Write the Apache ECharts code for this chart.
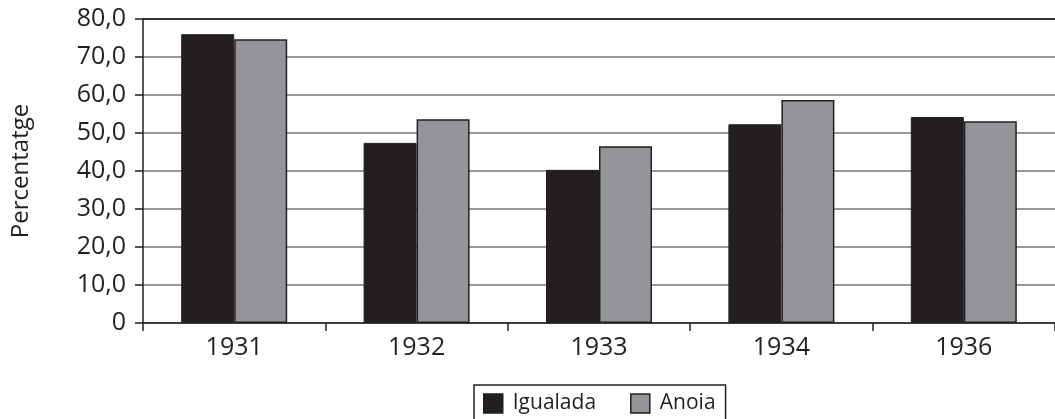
<!DOCTYPE html>
<html>
<head>
<meta charset="utf-8">
<script src="https://cdn.jsdelivr.net/npm/echarts@6/dist/echarts.min.js"></script>
<style>
  html, body { margin: 0; padding: 0; background: #fff; }
  #chart { width: 1055px; height: 419px; }
</style>
</head>
<body>
<div id="chart"></div>
<script>
var years = ['1931', '1932', '1933', '1934', '1936'];
var igualada = [76.0, 47.4, 40.3, 52.3, 54.2];
var anoia = [74.7, 53.6, 46.5, 58.7, 53.1];

initChart();
function initChart(){
    var dom = document.getElementById('chart');
    var myChart = echarts.init(dom, null, { renderer: 'canvas' });
    var font = 'Open Sans';

    var option = {
        animation: false,
        textStyle: { fontFamily: font },
        grid: { left: 143, top: 19, width: 918, height: 304 },
        legend: {
            data: ['Igualada', 'Anoia'],
            left: 474, top: 385,
            padding: [8, 10, 10, 9],
            itemWidth: 19, itemHeight: 19, itemGap: 34,
            borderColor: '#231f20', borderWidth: 1.5,
            icon: 'rect',
            itemStyle: { borderColor: '#231f20', borderWidth: 1.5 },
            textStyle: { fontSize: 21, color: '#231f20', fontFamily: font, padding: [0, 0, 0, 5] }
        },
        xAxis: {
            type: 'category',
            data: years,
            axisLine: { lineStyle: { color: '#231f20', width: 1.5 } },
            axisTick: { show: true, length: 8, lineStyle: { color: '#231f20', width: 1.5 } },
            axisLabel: { fontSize: 25, color: '#231f20', margin: 12 }
        },
        yAxis: {
            type: 'value',
            min: 0, max: 80, interval: 10,
            name: 'Percentatge',
            nameLocation: 'middle',
            nameGap: 110,
            nameTextStyle: { fontSize: 24, color: '#231f20' },
            axisLine: { show: true, lineStyle: { color: '#231f20', width: 1.5 } },
            axisTick: { show: true, length: 8, lineStyle: { color: '#231f20', width: 1.5 } },
            axisLabel: {
                fontSize: 25, color: '#231f20', margin: 17,
                formatter: function (v) { return v === 0 ? '0' : v.toFixed(1).replace('.', ','); }
            },
            splitLine: {
                lineStyle: {
                    color: ['#999', '#999', '#999', '#999', '#999', '#999', '#999', '#999', '#333'],
                    width: 2
                }
            }
        },
        series: [
            {
                name: 'Igualada',
                type: 'bar',
                data: igualada,
                barWidth: 53,
                barGap: '0%',
                itemStyle: { color: '#231f20', borderColor: '#231f20', borderWidth: 1 }
            },
            {
                name: 'Anoia',
                type: 'bar',
                data: anoia,
                barWidth: 53,
                itemStyle: { color: '#939598', borderColor: '#231f20', borderWidth: 1.5 }
            }
        ]
    };

    myChart.setOption(option);
    window.addEventListener('resize', myChart.resize);
}
</script>
</body>
</html>
